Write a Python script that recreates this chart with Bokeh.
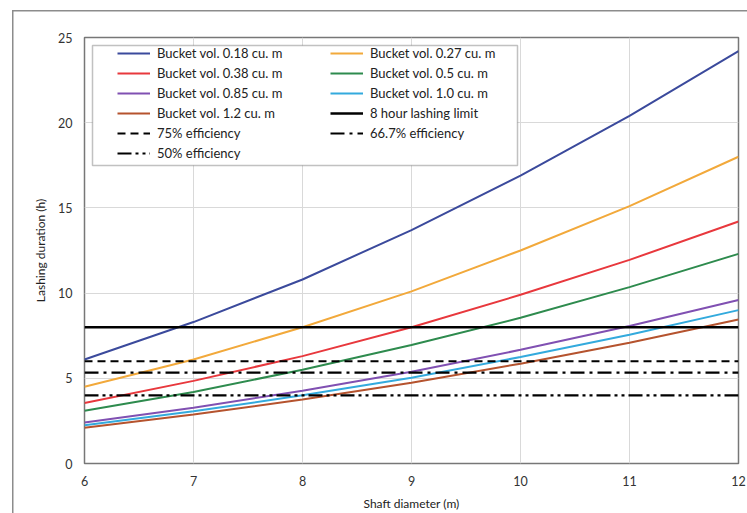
from bokeh.plotting import figure
from bokeh.models import Legend, LegendItem, Range1d, FixedTicker, BoxAnnotation
from bokeh.embed import file_html
from bokeh.resources import INLINE

shaft_d = [6, 7, 8, 9, 10, 11, 12]
v018 = [6.1, 8.3, 10.8, 13.7, 16.9, 20.4, 24.2]
v027 = [4.5, 6.1, 8.0, 10.1, 12.5, 15.1, 18.0]
v038 = [3.55, 4.85, 6.3, 8.0, 9.9, 11.95, 14.2]
v050 = [3.1, 4.2, 5.5, 6.95, 8.55, 10.35, 12.3]
v085 = [2.4, 3.27, 4.27, 5.38, 6.67, 8.07, 9.6]
v100 = [2.25, 3.06, 4.0, 5.03, 6.25, 7.56, 9.0]
v120 = [2.1, 2.87, 3.75, 4.74, 5.86, 7.09, 8.45]
limit_8h = 8.0
eff_75 = 6.0
eff_667 = 5.33
eff_50 = 4.0
x_ticks = [6, 7, 8, 9, 10, 11, 12]
y_ticks = [0, 5, 10, 15, 20, 25]

FONT = "Lato"

p = figure(width=747, height=513, output_backend="svg", toolbar_location=None,
           x_range=Range1d(6, 12), y_range=Range1d(0, 25),
           min_border_left=84, min_border_right=9, min_border_top=37, min_border_bottom=48)

series = [
    ("Bucket vol. 0.18 cu. m", v018, "#3B4A9C"),
    ("Bucket vol. 0.27 cu. m", v027, "#F2A93B"),
    ("Bucket vol. 0.38 cu. m", v038, "#E8383D"),
    ("Bucket vol. 0.5 cu. m", v050, "#2E8B4E"),
    ("Bucket vol. 0.85 cu. m", v085, "#8050B2"),
    ("Bucket vol. 1.0 cu. m", v100, "#33AADD"),
    ("Bucket vol. 1.2 cu. m", v120, "#B5532E"),
]
rends = {}
for name, ys, col in series:
    rends[name] = p.line(shaft_d, ys, line_color=col, line_width=2)

xs_h = [x_ticks[0], x_ticks[-1]]
rends["8 hour lashing limit"] = p.line(xs_h, [limit_8h, limit_8h], line_color="black", line_width=2.5)
rends["75% efficiency"] = p.line(xs_h, [eff_75, eff_75], line_color="black", line_width=2.2, line_dash="8 5")
rends["66.7% efficiency"] = p.line(xs_h, [eff_667, eff_667], line_color="black", line_width=2.2, line_dash="14 5 3 5")
rends["50% efficiency"] = p.line(xs_h, [eff_50, eff_50], line_color="black", line_width=2.2, line_dash="14 4 3 4 3 4")

# legend frame (canvas pixel units)
p.add_layout(BoxAnnotation(left=92, right=517, top=45, bottom=165,
                           left_units="canvas", right_units="canvas",
                           top_units="canvas", bottom_units="canvas",
                           fill_color="white", fill_alpha=1,
                           line_color="#333333", line_width=1.5))

order = ["Bucket vol. 0.18 cu. m", "Bucket vol. 0.38 cu. m", "Bucket vol. 0.85 cu. m",
         "Bucket vol. 1.2 cu. m", "75% efficiency", "50% efficiency",
         "Bucket vol. 0.27 cu. m", "Bucket vol. 0.5 cu. m", "Bucket vol. 1.0 cu. m",
         "8 hour lashing limit", "66.7% efficiency"]
legend = Legend(items=[LegendItem(label=n, renderers=[rends[n]]) for n in order],
                ncols=2, location=(33, 300))
legend.label_text_font = FONT
legend.label_text_font_size = "13px"
legend.label_text_color = "#222222"
legend.glyph_width = 33
legend.glyph_height = 20
legend.label_standoff = 7
legend.label_height = 20
legend.label_width = 173
legend.spacing = 0
legend.padding = 0
legend.margin = 0
legend.border_line_color = None
legend.background_fill_alpha = 0
p.add_layout(legend)

p.xaxis.ticker = FixedTicker(ticks=x_ticks)
p.yaxis.ticker = FixedTicker(ticks=y_ticks)
for ax in (p.xaxis[0], p.yaxis[0]):
    ax.axis_line_color = None
    ax.major_tick_line_color = None
    ax.minor_tick_line_color = None
    ax.major_tick_out = 0
    ax.major_tick_in = 0
    ax.minor_tick_out = 0
    ax.minor_tick_in = 0
    ax.major_label_text_font = FONT
    ax.major_label_text_font_size = "12.5px"
    ax.major_label_text_color = "#333333"
    ax.axis_label_text_font = FONT
    ax.axis_label_text_font_size = "12px"
    ax.axis_label_text_font_style = "normal"
    ax.axis_label_text_color = "#222222"
p.xaxis.axis_label = "Shaft diameter (m)"
p.yaxis.axis_label = "Lashing duration (h)"
p.yaxis.major_label_standoff = 12
p.xaxis.major_label_standoff = 12
p.xaxis.axis_label_standoff = 7
p.yaxis.axis_label_standoff = 7

p.xgrid.ticker = FixedTicker(ticks=x_ticks)
p.ygrid.ticker = FixedTicker(ticks=y_ticks)
p.grid.grid_line_color = "#D9D9D9"
p.grid.grid_line_width = 1
p.outline_line_color = "#777777"
p.outline_line_width = 1.5
p.background_fill_color = "white"
# outer chart border drawn as a page background behind a transparent canvas border
p.border_fill_alpha = 0
p.styles = {
    "background": ("linear-gradient(#8C8C8C,#8C8C8C) 12px 10px / 1.5px 100% no-repeat, "
                   "linear-gradient(#8C8C8C,#8C8C8C) 12px 10px / 100% 1.5px no-repeat, white")
}

open("out.html", "w").write(file_html(p, INLINE))
